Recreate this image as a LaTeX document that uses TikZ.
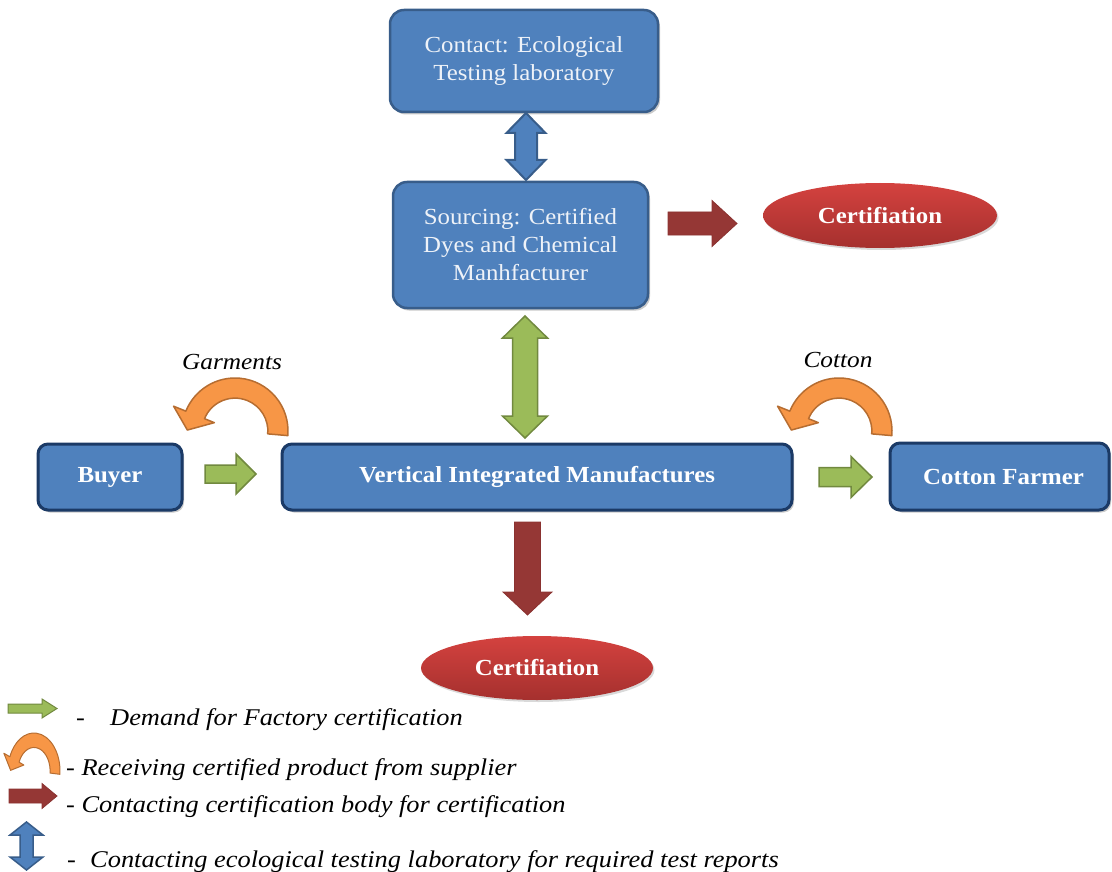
\documentclass[tikz,border=0pt]{standalone}
\usepackage{fontspec}
\setmainfont{Liberation Serif}
\newfontfamily\boxf[FakeStretch=1.08]{Liberation Serif}
\newfontfamily\legf[FakeStretch=1.1]{Liberation Serif}
\usetikzlibrary{shapes.geometric,shadows,calc}
\definecolor{boxblue}{HTML}{4F81BD}
\definecolor{boxedge}{HTML}{385D8A}
\definecolor{boxedgedark}{HTML}{1B3A66}
\definecolor{boxtxt}{HTML}{EEF2F8}
\definecolor{arrgreen}{HTML}{9BBB59}
\definecolor{greenedge}{HTML}{71893F}
\definecolor{arrred}{HTML}{953735}
\definecolor{rededge}{HTML}{8A3230}
\definecolor{arrorange}{HTML}{F79646}
\definecolor{orangeedge}{HTML}{B66D31}
\definecolor{ellTop}{HTML}{D4423F}
\definecolor{ellBot}{HTML}{A5302E}
\tikzset{
  boxshadow/.style={drop shadow={shadow xshift=2pt, shadow yshift=-2.5pt, opacity=0.35, fill=black!60}},
  topbox/.style={draw=boxedge, line width=2.5pt, fill=boxblue, rounded corners=14pt,
    text=boxtxt, font=\boxf\fontsize{23}{28}\selectfont, align=center, inner sep=0pt, boxshadow},
  mainbox/.style={draw=boxedgedark, line width=3pt, fill=boxblue, rounded corners=10pt,
    text=white, font=\boxf\bfseries\fontsize{23}{28}\selectfont, align=center, inner sep=0pt,
    minimum height=66pt, boxshadow},
  certell/.style={ellipse, draw=none, top color=ellTop, bottom color=ellBot,
    text=white, font=\boxf\bfseries\fontsize{23}{28}\selectfont, inner sep=0pt,
    drop shadow={shadow xshift=1.5pt, shadow yshift=-2pt, opacity=0.25, fill=black!60}},
  greenarr/.style={draw=greenedge, fill=arrgreen, line width=1.5pt, line join=miter},
  redarr/.style={draw=rededge, fill=arrred, line width=0.8pt},
  bluearr/.style={draw=boxedge, fill=boxblue, line width=2pt},
  orangearr/.style={draw=orangeedge, fill=arrorange, line width=1.5pt, line join=round},
  leglabel/.style={font=\legf\itshape\fontsize{24}{28}\selectfont, anchor=base west, inner sep=0pt},
  curvelabel/.style={font=\legf\itshape\fontsize{23}{28}\selectfont, inner sep=0pt},
  pics/blockarrow/.style n args={4}{code={
    \path[pic actions] (0,-#2) -- (#1-#4,-#2) -- (#1-#4,-#3) -- (#1,0)
      -- (#1-#4,#3) -- (#1-#4,#2) -- (0,#2) -- cycle;}},
  pics/dblarrow/.style n args={4}{code={
    \path[pic actions] (0,0) -- (#4,-#3) -- (#4,-#2) -- (#1-#4,-#2) -- (#1-#4,-#3)
      -- (#1,0) -- (#1-#4,#3) -- (#1-#4,#2) -- (#4,#2) -- (#4,#3) -- cycle;}},
  pics/uarrow/.style={code={
    \path[pic actions] (-5:1) arc[start angle=-5, end angle=158, radius=1]
      -- (158:1.25) -- (-0.899,0.018) -- (158:0.42) -- (158:0.62)
      arc[start angle=158, end angle=-5, radius=0.62] -- cycle;}}
}
\begin{document}
\begin{tikzpicture}[x=1pt, y=-1pt]
\useasboundingbox (0,0) rectangle (1112,872);

% boxes
\node[topbox, minimum width=268pt, minimum height=102pt] (contact) at (524,61)
  {Contact: Ecological\\Testing laboratory};
\node[topbox, minimum width=255pt, minimum height=126pt] (sourcing) at (520.5,245)
  {Sourcing: Certified\\Dyes and Chemical\\Manhfacturer};
\node[mainbox, minimum width=144pt] (buyer) at (110,477) {Buyer};
\node[mainbox, minimum width=510pt] (vim) at (537,477) {Vertical Integrated Manufactures};
\node[mainbox, minimum width=219pt, minimum height=67pt] (farmer) at (999.5,476.5) {\hspace*{8pt}Cotton Farmer};

% certification ellipses
\node[certell, minimum width=234pt, minimum height=65pt] (cert1) at (880,215.5) {Certifiation};
\node[certell, minimum width=232pt, minimum height=64pt] (cert2) at (537,668) {Certifiation};

% block arrows
\pic[bluearr, rotate=-90] at (526,113) {dblarrow={67}{11}{19.5}{20}};
\pic[greenarr, rotate=-90] at (525,316) {dblarrow={122}{12.5}{22.5}{22}};
\pic[redarr] at (668,223.5) {blockarrow={69}{11.5}{23}{25}};
\pic[redarr, rotate=-90] at (527.5,522) {blockarrow={93}{13}{24.5}{23}};
\pic[greenarr] at (205,474) {blockarrow={51}{9}{20}{20}};
\pic[greenarr] at (819,477) {blockarrow={53}{9.5}{20.5}{21}};

% curved arrows
\pic[orangearr, xscale=53, yscale=-53] at (235,431) {uarrow};
\pic[orangearr, xscale=53, yscale=-53] at (839,431) {uarrow};
\node[curvelabel] (garm) at (232,362) {Garments};
\node[curvelabel] (cott) at (838,360) {Cotton};

% legend
\pic[greenarr, line width=1pt] at (8,708.5) {blockarrow={49}{4.5}{9.5}{15}};
\node[leglabel] (d1) at (76,725) {-};
\node[leglabel] (l1) at (110,725) {Demand for Factory certification};
\pic[orangearr, line width=1pt, xscale=26, yscale=-38] at (34,771) {uarrow};
\node[leglabel] (l2) at (66,775) {- Receiving certified product from supplier};
\pic[redarr] at (9,796) {blockarrow={48}{7}{12.5}{15}};
\node[leglabel] (l3) at (66,812) {- Contacting certification body for certification};
\pic[bluearr, line width=1.5pt, rotate=-90] at (26.5,822) {dblarrow={48}{6.5}{16.5}{13}};
\node[leglabel] (d4) at (67,867) {-};
\node[leglabel] (l4) at (90,867) {Contacting ecological testing laboratory for required test reports};
\end{tikzpicture}
\end{document}
